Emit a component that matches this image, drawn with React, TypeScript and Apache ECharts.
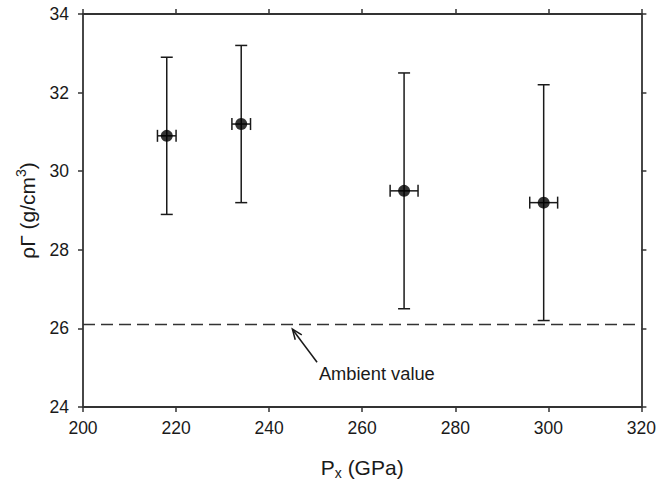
import React, { useEffect, useRef } from "react";
import * as echarts from "echarts";

const px = [218, 234, 269, 299];
const rho = [30.9, 31.2, 29.5, 29.2];
const rhoLow = [28.9, 29.2, 26.5, 26.2];
const rhoHigh = [32.9, 33.2, 32.5, 32.2];
const pxErr = [2, 2, 3, 3];
const ambient = 26.1;
const arrowTail = [250.3, 25.14];
const arrowTip = [245, 25.98];
const ambientLabelPos = [250.7, 24.84];
const ambientLabel = "Ambient value";

const FONT = "Liberation Sans, Arial, sans-serif";
const INK = "#1a1a1a";
const AXIS = "#333";

export default function App() {
  const ref = useRef<HTMLDivElement>(null);
  useEffect(() => {
    if (!ref.current) return;
    const chart = echarts.init(ref.current, undefined, { renderer: "svg" });
    const errData = px.map((x, i) => [x, rho[i], rhoLow[i], rhoHigh[i], pxErr[i]]);
    const axisCommon = {
      min: 200,
      max: 320,
      interval: 20,
    };
    const option = {
      animation: false,
      backgroundColor: "#fff",
      grid: { left: 83, top: 14, right: 15, bottom: 77, containLabel: false },
      xAxis: [
        {
          type: "value",
          ...axisCommon,
          position: "bottom",
          axisLine: { show: true, onZero: false, lineStyle: { color: AXIS, width: 1.8 } },
          axisTick: { show: true, length: 5, lineStyle: { color: AXIS, width: 1.5 } },
          axisLabel: { color: INK, fontSize: 17.5, fontFamily: FONT, margin: 12 },
          splitLine: { show: false },
          name: "{a|P}{s|x}{a| (GPa)}",
          nameLocation: "middle",
          nameGap: 47,
          nameTextStyle: {
            rich: {
              a: { fontSize: 21, fontFamily: FONT, color: INK, lineHeight: 26 },
              s: { fontSize: 14, fontFamily: FONT, color: INK, lineHeight: 12, verticalAlign: "bottom" },
            },
          },
        },
        {
          type: "value",
          ...axisCommon,
          position: "top",
          axisLine: { show: true, onZero: false, lineStyle: { color: AXIS, width: 1.8 } },
          axisTick: { show: true, length: 5, lineStyle: { color: AXIS, width: 1.5 } },
          axisLabel: { show: false },
          splitLine: { show: false },
        },
      ],
      yAxis: [
        {
          type: "value",
          min: 24,
          max: 34,
          interval: 2,
          position: "left",
          axisLine: { show: true, onZero: false, lineStyle: { color: AXIS, width: 1.8 } },
          axisTick: { show: true, length: 5, lineStyle: { color: AXIS, width: 1.5 } },
          axisLabel: { color: INK, fontSize: 17.5, fontFamily: FONT, margin: 14 },
          splitLine: { show: false },
          name: "{a|ρΓ (g/cm}{s|3}{a|)}",
          nameLocation: "middle",
          nameRotate: 90,
          nameGap: 43,
          nameTextStyle: {
            rich: {
              a: { fontSize: 21, fontFamily: FONT, color: INK, lineHeight: 26 },
              s: { fontSize: 14, fontFamily: FONT, color: INK, lineHeight: 14, verticalAlign: "top" },
            },
          },
        },
        {
          type: "value",
          min: 24,
          max: 34,
          interval: 2,
          position: "right",
          axisLine: { show: true, onZero: false, lineStyle: { color: AXIS, width: 1.8 } },
          axisTick: { show: true, length: 5, lineStyle: { color: AXIS, width: 1.5 } },
          axisLabel: { show: false },
          splitLine: { show: false },
        },
      ],
      series: [
        {
          type: "line",
          data: [[200, ambient], [320, ambient]],
          symbol: "none",
          lineStyle: { color: AXIS, width: 1.6, type: [12, 6] },
          silent: true,
          z: 1,
        },
        {
          type: "custom",
          data: errData,
          z: 2,
          renderItem: (params: any, api: any) => {
            const x = api.value(0);
            const y = api.value(1);
            const lo = api.value(2);
            const hi = api.value(3);
            const xe = api.value(4);
            const pLo = api.coord([x, lo]);
            const pHi = api.coord([x, hi]);
            const pL = api.coord([x - xe, y]);
            const pR = api.coord([x + xe, y]);
            const cap = 6;
            const st = { stroke: INK, lineWidth: 1.5, fill: "none" };
            const ln = (x1: number, y1: number, x2: number, y2: number) => ({
              type: "line",
              shape: { x1, y1, x2, y2 },
              style: st,
            });
            return {
              type: "group",
              children: [
                ln(pLo[0], pLo[1], pHi[0], pHi[1]),
                ln(pLo[0] - cap, pLo[1], pLo[0] + cap, pLo[1]),
                ln(pHi[0] - cap, pHi[1], pHi[0] + cap, pHi[1]),
                ln(pL[0], pL[1], pR[0], pR[1]),
                ln(pL[0], pL[1] - cap, pL[0], pL[1] + cap),
                ln(pR[0], pR[1] - cap, pR[0], pR[1] + cap),
              ],
            };
          },
        },
        {
          type: "scatter",
          data: px.map((x, i) => [x, rho[i]]),
          symbol: "circle",
          symbolSize: 12,
          itemStyle: { color: "#000" },
          z: 3,
        },
        {
          type: "custom",
          data: [[arrowTail[0], arrowTail[1], arrowTip[0], arrowTip[1]]],
          z: 4,
          silent: true,
          renderItem: (params: any, api: any) => {
            const t = api.coord([api.value(0), api.value(1)]);
            const h = api.coord([api.value(2), api.value(3)]);
            const dx = t[0] - h[0];
            const dy = t[1] - h[1];
            const len = Math.sqrt(dx * dx + dy * dy);
            const ux = dx / len;
            const uy = dy / len;
            const hl = 11;
            const ang = 0.38;
            const rot = (a: number) => [
              h[0] + hl * (ux * Math.cos(a) - uy * Math.sin(a)),
              h[1] + hl * (ux * Math.sin(a) + uy * Math.cos(a)),
            ];
            const a1 = rot(ang);
            const a2 = rot(-ang);
            const st = { stroke: INK, lineWidth: 1.5, fill: "none" };
            return {
              type: "group",
              children: [
                { type: "line", shape: { x1: t[0], y1: t[1], x2: h[0], y2: h[1] }, style: st },
                { type: "polyline", shape: { points: [a1, h, a2] }, style: st },
              ],
            };
          },
        },
        {
          type: "custom",
          data: [[ambientLabelPos[0], ambientLabelPos[1]]],
          z: 4,
          silent: true,
          renderItem: (params: any, api: any) => {
            const p = api.coord([api.value(0), api.value(1)]);
            return {
              type: "text",
              x: p[0],
              y: p[1],
              style: {
                text: ambientLabel,
                fontSize: 18.3,
                fontFamily: FONT,
                fill: INK,
                align: "left",
                verticalAlign: "middle",
              },
            };
          },
        },
      ],
    };
    chart.setOption(option as any);
    return () => chart.dispose();
  }, []);
  return <div ref={ref} style={{ width: 659, height: 485, position: "absolute", left: 0, top: 0 }} />;
}
